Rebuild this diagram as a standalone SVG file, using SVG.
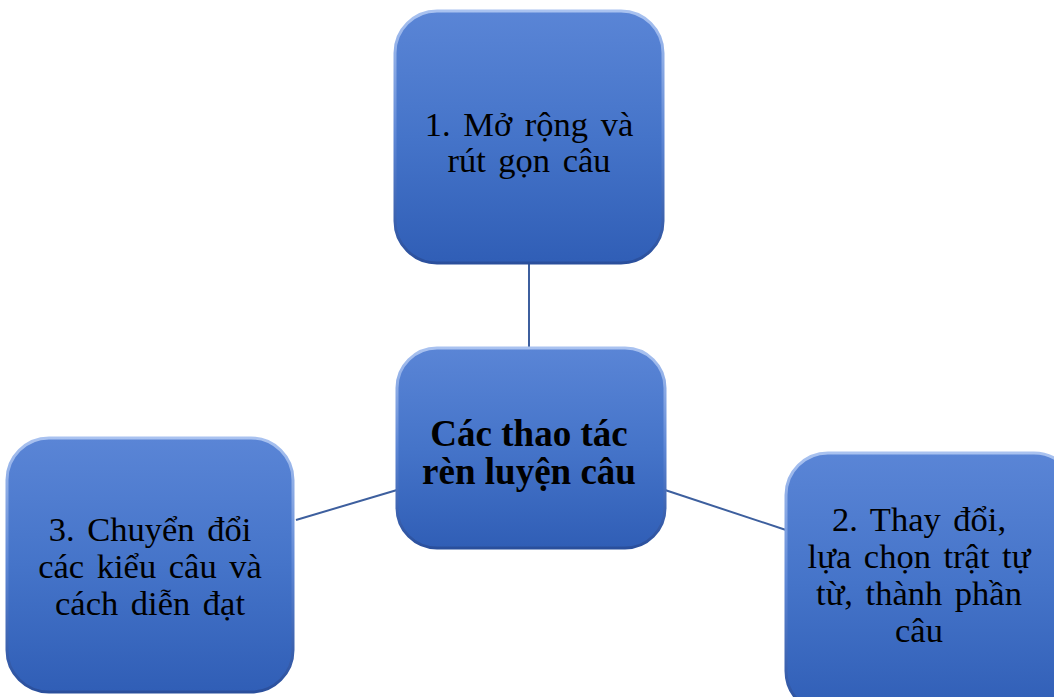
<svg xmlns="http://www.w3.org/2000/svg" width="1054" height="697" viewBox="0 0 1054 697">
<defs>
<linearGradient id="fill" x1="0" y1="0" x2="0" y2="1">
<stop offset="0" stop-color="#5a85d6"/>
<stop offset="0.5" stop-color="#4574c9"/>
<stop offset="1" stop-color="#305eb6"/>
</linearGradient>
<linearGradient id="rim" x1="0" y1="0" x2="0" y2="1">
<stop offset="0" stop-color="#a9c2f0"/>
<stop offset="0.5" stop-color="#5d86d4"/>
<stop offset="1" stop-color="#2a4f9c"/>
</linearGradient>
</defs>
<style>
.box{fill:url(#fill);stroke:url(#rim);stroke-width:3}
.t{font-family:"Liberation Serif","Times New Roman",serif;font-size:34.5px;fill:#000;text-anchor:middle;word-spacing:4px}
.b{font-weight:bold;font-size:37px;word-spacing:0}
.c{stroke:#3d5f9e;stroke-width:2;fill:none}
</style>
<rect width="1054" height="697" fill="#ffffff"/>
<g id="connectors">
<line class="c" x1="529" y1="263" x2="529" y2="348"/>
<line class="c" x1="296" y1="520" x2="397" y2="490"/>
<line class="c" x1="665" y1="490" x2="786" y2="530"/>
</g>
<g id="node-top">
<rect class="box" x="395" y="11" width="268" height="252" rx="42"/>
<text class="t" x="529" y="136">1. Mở rộng và</text>
<text class="t" x="529" y="172">rút gọn câu</text>
</g>
<g id="node-center">
<rect class="box" x="397" y="348" width="268" height="200" rx="40"/>
<text class="t b" x="529" y="446">Các thao tác</text>
<text class="t b" x="529" y="484">rèn luyện câu</text>
</g>
<g id="node-left">
<rect class="box" x="7" y="438" width="286" height="254" rx="42"/>
<text class="t" x="150" y="541">3. Chuyển đổi</text>
<text class="t" x="150" y="578">các kiểu câu và</text>
<text class="t" x="150" y="615">cách diễn đạt</text>
</g>
<g id="node-right">
<rect class="box" x="786" y="453" width="290" height="260" rx="42"/>
<text class="t" x="919" y="531">2. Thay đổi,</text>
<text class="t" x="919" y="568">lựa chọn trật tự</text>
<text class="t" x="919" y="605">từ, thành phần</text>
<text class="t" x="919" y="642">câu</text>
</g>
</svg>
